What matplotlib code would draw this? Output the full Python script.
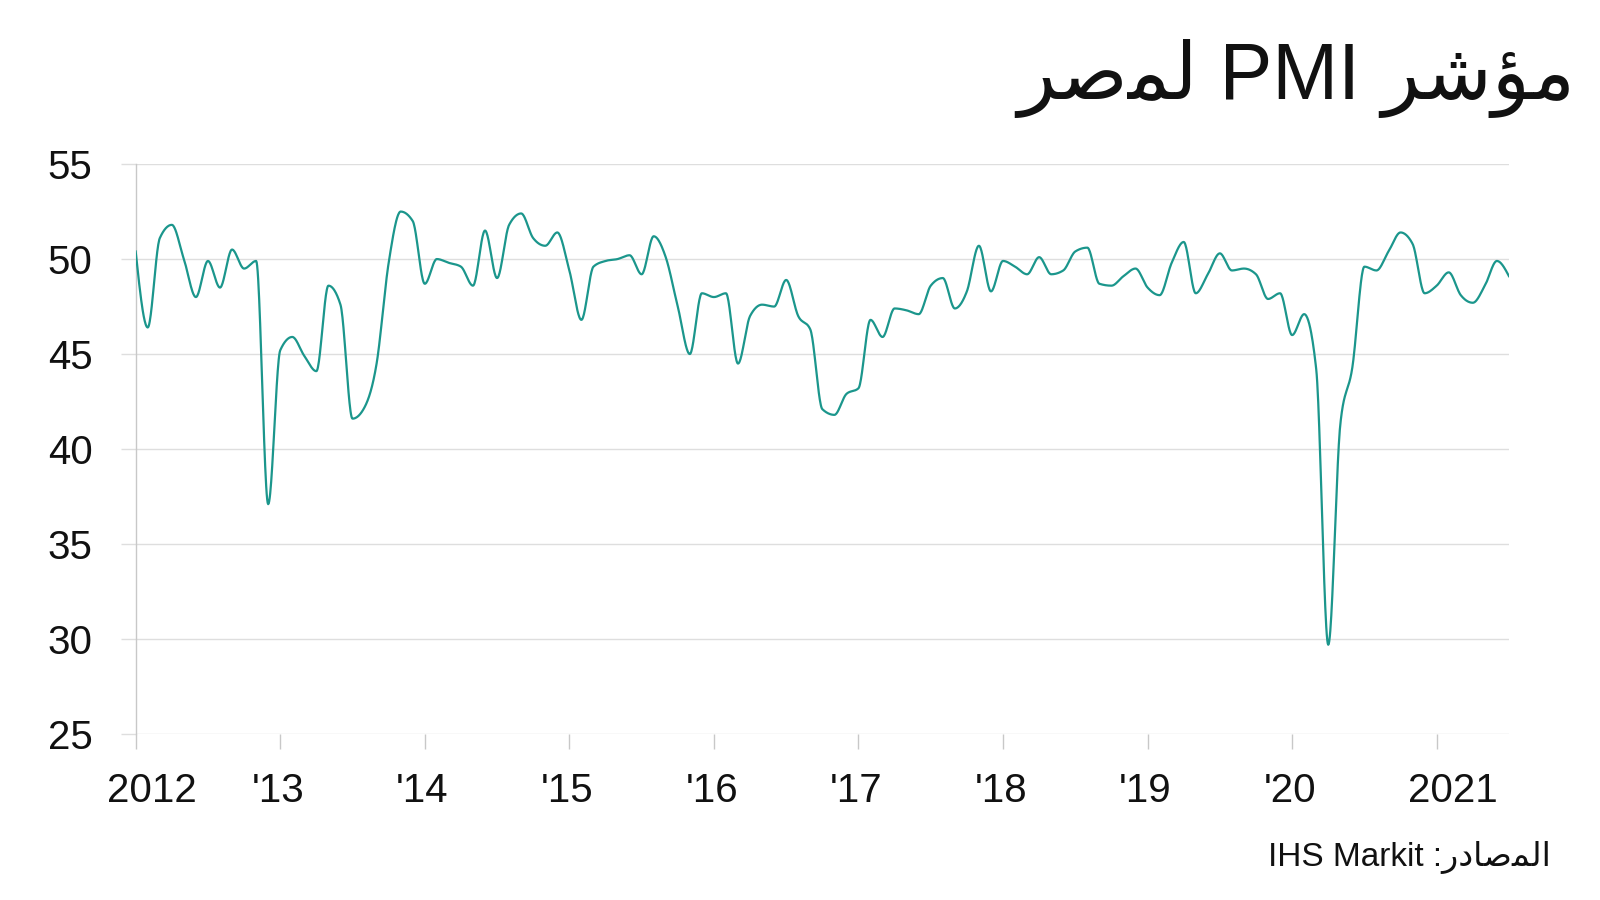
#!/usr/bin/env python3
# -*- coding: utf-8 -*-
"""
Egypt PMI, monthly, Jan 2012 - Jul 2021 (IHS Markit).

Smoothed line chart with an Arabic title and source note.
Output: out.png (1600x900).
"""

import numpy as np
import matplotlib
matplotlib.use("Agg")
import matplotlib.pyplot as plt
from matplotlib.transforms import ScaledTranslation


# ==========================================================
# Data
# ==========================================================

START_YEAR = 2012

PMI_2012 = [50.4, 46.4, 51.1, 51.8, 50.0, 48.0, 49.9, 48.5, 50.5, 49.5, 49.9, 37.1]
PMI_2013 = [45.2, 45.9, 44.9, 44.1, 48.6, 47.6, 41.6, 42.2, 44.5, 49.8, 52.5, 52.0]
PMI_2014 = [48.7, 50.0, 49.8, 49.6, 48.6, 51.5, 49.0, 51.8, 52.4, 51.1, 50.7, 51.4]
PMI_2015 = [49.4, 46.8, 49.6, 49.9, 50.0, 50.2, 49.2, 51.2, 50.1, 47.5, 45.0, 48.2]
PMI_2016 = [48.0, 48.2, 44.5, 47.0, 47.6, 47.5, 48.9, 47.0, 46.3, 42.1, 41.8, 42.9]
PMI_2017 = [43.2, 46.8, 45.9, 47.4, 47.3, 47.1, 48.6, 49.0, 47.4, 48.3, 50.7, 48.3]
PMI_2018 = [49.9, 49.6, 49.2, 50.1, 49.2, 49.4, 50.4, 50.6, 48.7, 48.6, 49.1, 49.5]
PMI_2019 = [48.5, 48.1, 49.8, 50.9, 48.2, 49.2, 50.3, 49.4, 49.5, 49.2, 47.9, 48.2]
PMI_2020 = [46.0, 47.1, 44.2, 29.7, 41.3, 44.3, 49.6, 49.4, 50.4, 51.4, 50.8, 48.2]
PMI_2021 = [48.6, 49.3, 48.1, 47.7, 48.6, 49.9, 49.1]

YEAR_TICK_LABELS = ["2012", "'13", "'14", "'15", "'16", "'17", "'18", "'19", "'20", "2021"]
Y_TICKS = [25, 30, 35, 40, 45, 50, 55]

# Arabic strings, written in presentation forms in visual (left-to-right)
# order, since matplotlib does no Arabic shaping.
# "مؤشر PMI لمصر"
TITLE = "\uFEAE\uFEBB\uFEE4\uFEDF PMI \uFEAE\uFEB7\uFE86\uFEE3"
# "المصادر: IHS Markit"
SOURCE = "IHS Markit :\uFEAD\uFEA9\uFE8E\uFEBB\uFEE4\uFEDF\uFE8D"

LINE_COLOR = "#1b968c"
GRID_COLOR = "#dedede"
FONTS = ["Liberation Sans", "DejaVu Sans"]


# ==========================================================
# Helpers
# ==========================================================

def monotone_curve(x, y, samples=24):
    """Monotone cubic (Steffen) interpolation, like d3.curveMonotoneX."""
    x = np.asarray(x, dtype=float)
    y = np.asarray(y, dtype=float)
    h = np.diff(x)
    s = np.diff(y) / h

    t = np.zeros_like(y)
    for i in range(1, len(y) - 1):
        s0, s1 = s[i - 1], s[i]
        p = (s0 * h[i] + s1 * h[i - 1]) / (h[i - 1] + h[i])
        t[i] = (np.sign(s0) + np.sign(s1)) * min(abs(s0), abs(s1), 0.5 * abs(p))
    t[0] = (3 * s[0] - t[1]) / 2
    t[-1] = (3 * s[-1] - t[-2]) / 2

    xs, ys = [], []
    u = np.linspace(0, 1, samples, endpoint=False)
    for i in range(len(h)):
        h00 = 2 * u**3 - 3 * u**2 + 1
        h10 = u**3 - 2 * u**2 + u
        h01 = -2 * u**3 + 3 * u**2
        h11 = u**3 - u**2
        xs.append(x[i] + u * h[i])
        ys.append(h00 * y[i] + h10 * h[i] * t[i] + h01 * y[i + 1] + h11 * h[i] * t[i + 1])
    xs.append([x[-1]])
    ys.append([y[-1]])
    return np.concatenate(xs), np.concatenate(ys)


# ==========================================================
# Plot
# ==========================================================

def main():
    plt.rcParams["font.family"] = FONTS

    values = (PMI_2012 + PMI_2013 + PMI_2014 + PMI_2015 + PMI_2016
              + PMI_2017 + PMI_2018 + PMI_2019 + PMI_2020 + PMI_2021)
    months = np.arange(len(values))

    fig = plt.figure(figsize=(16, 9), dpi=100)
    ax = fig.add_axes([0.0848, 0.1844, 0.8583, 0.6333])

    cx, cy = monotone_curve(months, values)
    ax.plot(cx, cy, color=LINE_COLOR, linewidth=1.6, solid_joinstyle="round", zorder=3)

    ax.set_xlim(0, len(values) - 1)
    ax.set_ylim(min(Y_TICKS), max(Y_TICKS))

    # Grid and axes
    ax.set_yticks(Y_TICKS)
    ax.yaxis.grid(True, color=GRID_COLOR, linewidth=1.0)
    ax.set_axisbelow(True)
    for side in ["top", "right", "bottom"]:
        ax.spines[side].set_visible(False)
    ax.spines["left"].set_color("#c8c8c8")
    ax.spines["left"].set_linewidth(1.0)

    ax.tick_params(axis="y", length=11, width=1.0, color=GRID_COLOR,
                   pad=20, labelsize=29, labelcolor="#111111")
    ax.tick_params(axis="x", length=11, width=1.0, color="#c8c8c8",
                   pad=16.5, labelsize=29, labelcolor="#111111")

    year_ticks = np.arange(len(YEAR_TICK_LABELS)) * 12
    ax.set_xticks(year_ticks)
    ax.set_xticklabels(YEAR_TICK_LABELS)

    # Year labels start a little left of their tick.
    shift = ScaledTranslation(-20.6 / 72, 0, fig.dpi_scale_trans)
    for label in ax.get_xticklabels():
        label.set_horizontalalignment("left")
        label.set_transform(label.get_transform() + shift)

    # Title and source
    fig.text(0.9845, 1 - 99 / 900, TITLE, ha="right", va="baseline",
             fontsize=57, color="#111111")
    fig.text(0.969, 1 - 866 / 900, SOURCE, ha="right", va="baseline",
             fontsize=24, color="#111111")

    fig.savefig("out.png", dpi=100)
    plt.close(fig)


if __name__ == "__main__":
    main()
